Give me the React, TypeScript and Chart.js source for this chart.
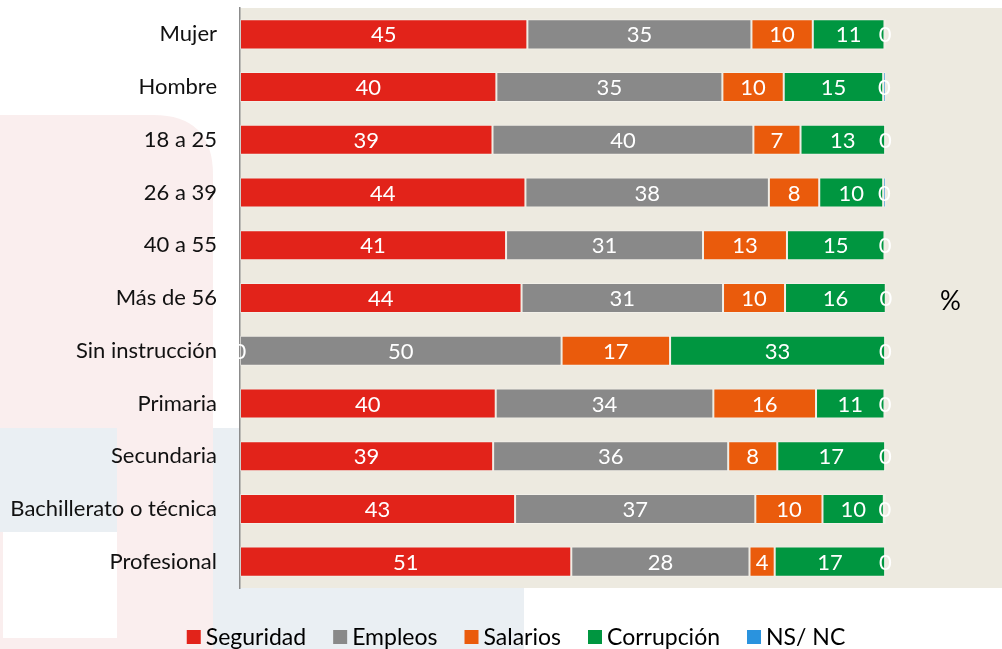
import React, { useEffect, useRef } from 'react';
import { Chart, registerables } from 'chart.js';

Chart.register(...registerables);

const categories = [
  'Mujer',
  'Hombre',
  '18 a 25',
  '26 a 39',
  '40 a 55',
  'Más de 56',
  'Sin instrucción',
  'Primaria',
  'Secundaria',
  'Bachillerato o técnica',
  'Profesional',
];

const seguridad = [44.5, 39.7, 39.1, 44.2, 41.2, 43.6, 0, 39.6, 39.2, 42.6, 51.3];
const empleos = [34.7, 35.0, 40.4, 37.7, 30.5, 31.2, 49.8, 33.7, 36.4, 37.2, 27.6];
const salarios = [9.5, 9.5, 7.3, 7.8, 13.0, 9.6, 16.8, 15.9, 7.6, 10.4, 3.9];
const corrupcion = [11.1, 15.4, 13.1, 9.9, 15.1, 15.6, 33.3, 10.6, 16.7, 9.5, 17.1];
const nsnc = [0.2, 0.4, 0.1, 0.4, 0.2, 0, 0.1, 0.2, 0.1, 0.3, 0.1];

const seriesNames = ['Seguridad', 'Empleos', 'Salarios', 'Corrupción', 'NS/ NC'];
const seriesColors = ['#E2231A', '#898989', '#EA5B0C', '#009640', '#2A93DE'];
const unitLabel = '%';

const FONT = 'Lato, "Open Sans", sans-serif';

const backgroundPlugin = {
  id: 'bgShapes',
  beforeDraw(chart: any) {
    const { ctx, chartArea } = chart;
    ctx.save();
    // faint watermark shapes
    ctx.fillStyle = '#FAEEEE';
    ctx.beginPath();
    const r = 60;
    ctx.moveTo(0, 115);
    ctx.lineTo(213 - r, 115);
    ctx.quadraticCurveTo(213, 115, 213, 115 + r);
    ctx.lineTo(213, 649);
    ctx.lineTo(0, 649);
    ctx.closePath();
    ctx.fill();
    ctx.fillStyle = '#EAEFF3';
    ctx.fillRect(0, 428, 117, 104);
    ctx.fillRect(213, 428, 311, 221);
    ctx.fillStyle = '#FFFFFF';
    ctx.fillRect(3, 532, 114, 106);
    // plot area
    ctx.fillStyle = '#EDEAE0';
    ctx.fillRect(chartArea.left, chartArea.top, chartArea.right - chartArea.left, chartArea.bottom - chartArea.top);
    ctx.restore();
  },
};

const labelsPlugin = {
  id: 'barLabels',
  afterDatasetsDraw(chart: any) {
    const { ctx } = chart;
    ctx.save();
    ctx.font = `22px ${FONT}`;
    ctx.fillStyle = '#FFFFFF';
    ctx.textAlign = 'center';
    ctx.textBaseline = 'middle';
    chart.data.datasets.forEach((ds: any, di: number) => {
      const meta = chart.getDatasetMeta(di);
      meta.data.forEach((el: any, i: number) => {
        const v = ds.data[i];
        const cx = (el.x + el.base) / 2;
        ctx.fillText(String(Math.round(v)), cx, el.y + 1);
      });
    });
    // unit label
    const xs = chart.scales.x;
    const ca = chart.chartArea;
    ctx.font = `26px ${FONT}`;
    ctx.fillStyle = '#000000';
    ctx.fillText(unitLabel, xs.getPixelForValue(110), (ca.top + ca.bottom) / 2 + 4);
    ctx.restore();
  },
};

const legendPlugin = {
  id: 'customLegend',
  afterDraw(chart: any) {
    const { ctx } = chart;
    ctx.save();
    ctx.font = `23px ${FONT}`;
    ctx.textBaseline = 'middle';
    ctx.textAlign = 'left';
    const box = 14;
    const gapBoxText = 5;
    const gapItems = 27;
    const items = chart.data.datasets.map((ds: any) => ({
      label: ds.label,
      color: ds.backgroundColor,
      w: ctx.measureText(ds.label).width,
    }));
    const total = items.reduce((s: number, it: any) => s + box + gapBoxText + it.w, 0) + gapItems * (items.length - 1);
    let x = 516 - total / 2;
    const y = 637;
    items.forEach((it: any) => {
      ctx.fillStyle = it.color;
      ctx.fillRect(x, y - box / 2, box, box);
      x += box + gapBoxText;
      ctx.fillStyle = '#000000';
      ctx.fillText(it.label, x, y + 1);
      x += it.w + gapItems;
    });
    ctx.restore();
  },
};

export default function App() {
  const ref = useRef<HTMLCanvasElement>(null);

  useEffect(() => {
    document.body.style.margin = '0';
    const values = [seguridad, empleos, salarios, corrupcion, nsnc];
    const chart = new Chart(ref.current as HTMLCanvasElement, {
      type: 'bar',
      data: {
        labels: categories,
        datasets: values.map((d, i) => ({
          label: seriesNames[i],
          data: d,
          backgroundColor: seriesColors[i],
          borderColor: 'rgba(255,255,255,0.3)',
          borderWidth: 1,
          borderSkipped: false,
          barPercentage: 0.57,
          categoryPercentage: 1,
        })),
      },
      options: {
        indexAxis: 'y',
        animation: false,
        responsive: false,
        events: [],
        layout: { padding: { top: 8, bottom: 61, left: 0, right: 0 } },
        plugins: {
          legend: { display: false },
          tooltip: { enabled: false },
          title: { display: false },
        },
        scales: {
          x: {
            stacked: true,
            display: false,
            min: 0,
            max: 118,
          },
          y: {
            stacked: true,
            grid: { display: false },
            border: { display: true, color: '#8C8C8C', width: 1.5 },
            ticks: {
              color: '#111111',
              font: { family: FONT, size: 22 },
              padding: 15,
            },
            afterFit(scale: any) {
              scale.width = 240;
              scale.paddingTop = 0;
              scale.paddingBottom = 0;
            },
          },
        },
      },
      plugins: [backgroundPlugin, labelsPlugin, legendPlugin],
    });
    return () => chart.destroy();
  }, []);

  return (
    <div style={{ width: 1002, height: 649 }}>
      <canvas ref={ref} width={1002} height={649} style={{ display: 'block' }} />
    </div>
  );
}
